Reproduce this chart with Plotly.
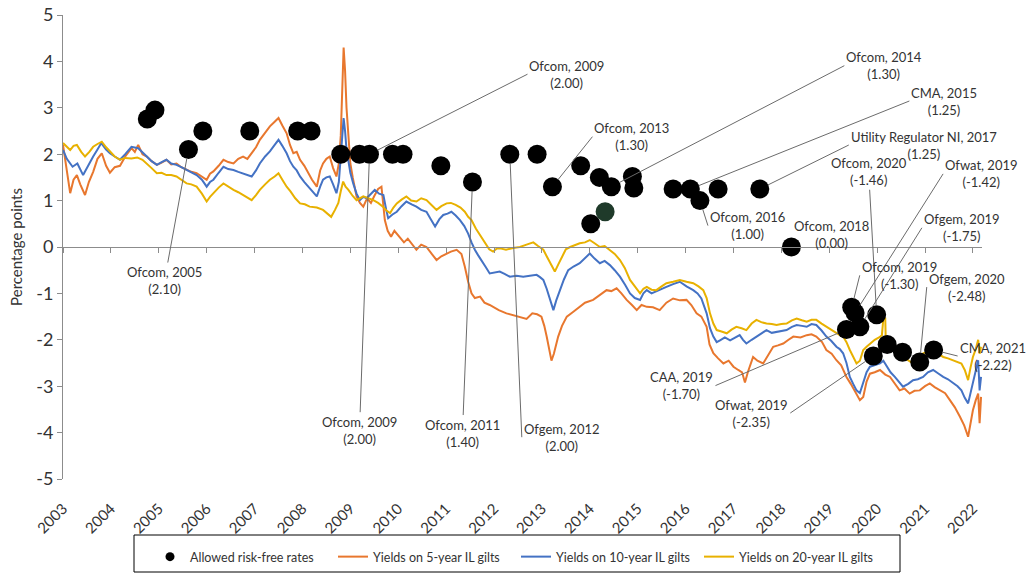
import plotly.graph_objects as go

# ---------------- data ----------------
years = list(range(2003, 2023))
year_labels = [str(y) for y in years]
y_ticks = list(range(-5, 6))
y_tick_labels = [str(v) for v in y_ticks]

# Yields on 5-year IL gilts
y5_x = [2003.00,2003.08,2003.15,2003.22,2003.29,2003.36,2003.46,2003.54,2003.63,2003.72,2003.81,2003.90,2003.98,
        2004.08,2004.19,2004.30,2004.43,2004.50,2004.57,2004.66,2004.75,2004.85,2004.96,2005.06,2005.16,2005.26,
        2005.37,2005.47,2005.58,2005.68,2005.79,2005.90,2006.00,2006.07,2006.14,2006.25,2006.35,2006.45,2006.56,
        2006.66,2006.76,2006.85,2006.94,2007.03,2007.11,2007.22,2007.32,2007.42,2007.50,2007.58,2007.67,2007.74,
        2007.81,2007.88,2007.95,2008.04,2008.12,2008.20,2008.30,2008.37,2008.43,2008.50,2008.57,2008.64,2008.71,
        2008.76,2008.80,2008.83,2008.86,2008.89,2008.92,2008.96,2009.00,2009.05,2009.13,2009.20,2009.27,2009.35,
        2009.43,2009.50,2009.58,2009.65,2009.72,2009.78,2009.85,2009.92,2009.97,2010.05,2010.12,2010.20,2010.30,
        2010.38,2010.48,2010.59,2010.70,2010.80,2010.90,2011.01,2011.10,2011.22,2011.32,2011.39,2011.46,2011.53,
        2011.60,2011.71,2011.80,2011.91,2012.00,2012.10,2012.26,2012.40,2012.54,2012.68,2012.80,2012.90,2012.99,
        2013.05,2013.10,2013.16,2013.20,2013.25,2013.34,2013.42,2013.52,2013.65,2013.79,2013.90,2014.07,2014.20,
        2014.35,2014.45,2014.56,2014.66,2014.77,2014.88,2014.98,2015.08,2015.19,2015.32,2015.46,2015.60,2015.74,
        2015.88,2016.02,2016.12,2016.23,2016.33,2016.44,2016.50,2016.58,2016.68,2016.79,2016.90,2017.00,2017.10,
        2017.18,2017.24,2017.30,2017.41,2017.50,2017.62,2017.72,2017.83,2017.93,2018.04,2018.15,2018.25,2018.40,
        2018.53,2018.63,2018.73,2018.85,2018.94,2019.05,2019.15,2019.25,2019.36,2019.45,2019.57,2019.64,2019.71,
        2019.78,2019.85,2019.95,2020.06,2020.17,2020.27,2020.37,2020.47,2020.57,2020.68,2020.78,2020.89,2021.00,
        2021.10,2021.20,2021.31,2021.42,2021.52,2021.62,2021.73,2021.82,2021.90,2021.95,2022.00,2022.06,2022.11,
        2022.14,2022.17]
y5_v = [2.20,1.60,1.16,1.45,1.55,1.35,1.12,1.40,1.62,1.90,2.02,1.75,1.60,
        1.72,1.75,1.95,2.13,2.05,2.20,2.00,1.95,1.85,1.77,1.82,1.88,1.78,
        1.80,1.72,1.66,1.62,1.59,1.52,1.45,1.58,1.63,1.75,1.88,1.83,1.80,
        1.90,1.95,1.90,2.02,2.15,2.31,2.45,2.60,2.70,2.78,2.62,2.45,2.20,
        2.02,2.05,1.88,1.75,1.59,1.45,1.30,1.65,1.80,1.90,1.95,1.70,1.52,
        1.80,2.40,3.40,4.30,3.80,3.00,2.40,1.80,1.50,1.09,0.95,0.87,1.05,
        0.95,1.10,1.25,1.30,0.58,0.35,0.22,0.35,0.29,0.20,0.10,0.18,0.05,
        -0.06,0.05,0.00,-0.15,-0.28,-0.20,-0.14,-0.10,-0.06,-0.15,-0.42,-0.75,-1.00,
        -1.10,-1.07,-1.20,-1.25,-1.30,-1.36,-1.43,-1.47,-1.50,-1.55,-1.43,-1.45,-1.50,
        -1.70,-1.93,-2.20,-2.45,-2.30,-1.93,-1.70,-1.50,-1.40,-1.29,-1.20,-1.14,-1.05,
        -0.93,-0.95,-0.89,-1.00,-1.14,-1.25,-1.36,-1.25,-1.29,-1.30,-1.36,-1.20,-1.11,
        -1.15,-1.14,-1.25,-1.43,-1.50,-1.72,-2.10,-2.29,-2.40,-2.51,-2.45,-2.58,-2.65,
        -2.70,-2.92,-2.70,-2.37,-2.45,-2.51,-2.35,-2.15,-2.12,-2.08,-2.00,-1.93,-1.95,
        -1.90,-1.88,-1.93,-2.05,-2.22,-2.30,-2.44,-2.55,-2.80,-2.95,-3.16,-3.30,-3.23,
        -2.90,-2.73,-2.70,-2.65,-2.75,-2.80,-2.95,-3.09,-3.05,-3.16,-3.10,-3.09,-3.00,
        -2.94,-3.02,-3.09,-3.15,-3.30,-3.45,-3.66,-3.85,-4.09,-3.80,-3.52,-3.30,-3.16,
        -3.80,-3.23]

# Yields on 10-year IL gilts
y10_x = [2003.00,2003.08,2003.20,2003.30,2003.42,2003.52,2003.63,2003.72,2003.80,2003.90,2003.98,2004.08,2004.19,
         2004.30,2004.43,2004.57,2004.66,2004.75,2004.85,2004.96,2005.06,2005.16,2005.26,2005.37,2005.47,2005.58,
         2005.68,2005.79,2005.90,2006.00,2006.07,2006.14,2006.25,2006.35,2006.45,2006.56,2006.66,2006.76,2006.85,
         2006.94,2007.03,2007.11,2007.22,2007.32,2007.42,2007.50,2007.58,2007.67,2007.74,2007.81,2007.88,2007.95,
         2008.04,2008.12,2008.20,2008.30,2008.37,2008.43,2008.50,2008.57,2008.64,2008.71,2008.76,2008.80,2008.83,
         2008.86,2008.89,2008.92,2008.96,2009.00,2009.06,2009.13,2009.20,2009.27,2009.34,2009.43,2009.51,2009.60,
         2009.69,2009.75,2009.79,2009.88,2009.97,2010.07,2010.17,2010.28,2010.38,2010.48,2010.59,2010.68,2010.77,
         2010.86,2010.94,2011.03,2011.11,2011.20,2011.29,2011.38,2011.46,2011.53,2011.60,2011.67,2011.74,2011.82,
         2011.91,2012.02,2012.12,2012.22,2012.33,2012.47,2012.61,2012.75,2012.89,2012.96,2013.03,2013.10,2013.17,
         2013.24,2013.30,2013.38,2013.46,2013.55,2013.66,2013.79,2013.90,2014.00,2014.10,2014.21,2014.31,2014.42,
         2014.52,2014.63,2014.74,2014.84,2014.94,2015.05,2015.12,2015.19,2015.29,2015.39,2015.50,2015.60,2015.74,
         2015.88,2016.02,2016.16,2016.25,2016.33,2016.44,2016.51,2016.58,2016.65,2016.72,2016.82,2016.93,2017.03,
         2017.13,2017.20,2017.27,2017.38,2017.48,2017.58,2017.69,2017.80,2017.90,2018.00,2018.11,2018.22,2018.32,
         2018.43,2018.53,2018.63,2018.73,2018.84,2018.94,2019.04,2019.15,2019.22,2019.29,2019.36,2019.43,2019.50,
         2019.57,2019.64,2019.71,2019.78,2019.85,2019.95,2020.06,2020.13,2020.20,2020.28,2020.37,2020.45,2020.54,
         2020.65,2020.75,2020.85,2020.96,2021.06,2021.17,2021.27,2021.38,2021.48,2021.59,2021.68,2021.76,2021.83,
         2021.90,2021.95,2022.00,2022.06,2022.11,2022.14,2022.17]
y10_v = [2.09,1.90,1.73,1.80,1.55,1.75,1.95,2.10,2.24,2.10,2.02,1.95,1.88,
         2.00,2.16,2.13,2.05,1.95,1.85,1.77,1.83,1.88,1.80,1.77,1.72,1.66,
         1.62,1.55,1.45,1.30,1.40,1.45,1.60,1.73,1.68,1.66,1.62,1.59,1.55,
         1.52,1.65,1.80,1.95,2.06,2.20,2.31,2.18,2.02,1.85,1.73,1.65,1.52,
         1.40,1.30,1.20,1.09,1.30,1.45,1.50,1.52,1.35,1.16,1.40,1.90,2.40,
         2.78,2.50,2.10,1.85,1.60,1.37,1.15,1.01,1.08,1.05,1.15,1.23,1.15,
         1.12,0.80,0.62,0.70,0.76,0.88,0.98,0.92,0.87,0.80,0.76,0.60,0.44,
         0.60,0.69,0.72,0.76,0.68,0.58,0.45,0.29,0.10,-0.06,-0.18,-0.28,-0.42,
         -0.57,-0.55,-0.53,-0.58,-0.64,-0.62,-0.64,-0.62,-0.60,-0.65,-0.71,-0.90,-1.15,
         -1.36,-1.15,-0.93,-0.70,-0.50,-0.42,-0.35,-0.25,-0.14,-0.25,-0.35,-0.30,-0.39,
         -0.50,-0.64,-0.82,-1.00,-1.10,-1.14,-1.00,-0.93,-1.00,-0.96,-0.90,-0.86,-0.80,
         -0.75,-0.85,-0.93,-1.00,-1.11,-1.43,-1.75,-1.93,-2.05,-2.01,-1.95,-2.01,-1.95,
         -1.90,-2.00,-2.08,-2.00,-1.93,-1.85,-1.79,-1.85,-1.83,-1.80,-1.79,-1.72,-1.68,
         -1.70,-1.72,-1.66,-1.68,-1.80,-1.93,-2.02,-2.15,-2.20,-2.29,-2.50,-2.80,-2.95,
         -3.09,-3.15,-2.94,-2.70,-2.58,-2.55,-2.51,-2.45,-2.58,-2.70,-2.80,-2.90,-3.01,
         -2.95,-2.87,-2.85,-2.80,-2.70,-2.65,-2.72,-2.80,-2.85,-2.94,-3.00,-3.09,-3.25,
         -3.37,-3.15,-2.94,-2.70,-2.44,-3.09,-2.80]

# Yields on 20-year IL gilts
y20_x = [2003.00,2003.08,2003.15,2003.22,2003.29,2003.38,2003.46,2003.55,2003.63,2003.72,2003.81,2003.90,2003.98,
         2004.08,2004.19,2004.30,2004.43,2004.55,2004.66,2004.75,2004.85,2004.96,2005.06,2005.16,2005.26,2005.37,
         2005.47,2005.58,2005.68,2005.79,2005.90,2006.00,2006.07,2006.14,2006.25,2006.35,2006.45,2006.56,2006.66,
         2006.76,2006.85,2006.94,2007.03,2007.11,2007.22,2007.32,2007.42,2007.50,2007.58,2007.67,2007.75,2007.85,
         2007.95,2008.05,2008.15,2008.30,2008.43,2008.52,2008.60,2008.68,2008.75,2008.80,2008.85,2008.90,2008.96,
         2009.05,2009.13,2009.27,2009.38,2009.48,2009.58,2009.68,2009.76,2009.83,2009.90,2009.97,2010.07,2010.17,
         2010.27,2010.38,2010.48,2010.59,2010.70,2010.80,2010.90,2011.01,2011.10,2011.20,2011.30,2011.39,2011.46,
         2011.53,2011.62,2011.71,2011.80,2011.90,2011.98,2012.06,2012.13,2012.25,2012.40,2012.54,2012.68,2012.82,
         2012.92,2013.03,2013.10,2013.17,2013.27,2013.34,2013.42,2013.50,2013.59,2013.70,2013.79,2013.90,2014.00,
         2014.10,2014.21,2014.31,2014.42,2014.52,2014.63,2014.73,2014.84,2014.94,2015.05,2015.12,2015.19,2015.29,
         2015.39,2015.50,2015.60,2015.74,2015.88,2016.02,2016.16,2016.27,2016.37,2016.44,2016.51,2016.58,2016.65,
         2016.75,2016.86,2016.96,2017.06,2017.17,2017.27,2017.38,2017.48,2017.58,2017.69,2017.80,2017.90,2018.00,
         2018.11,2018.22,2018.32,2018.43,2018.53,2018.63,2018.73,2018.84,2018.94,2019.04,2019.15,2019.22,2019.29,
         2019.36,2019.43,2019.50,2019.57,2019.64,2019.71,2019.78,2019.85,2019.95,2020.04,2020.10,2020.13,2020.17,
         2020.18,2020.26,2020.34,2020.44,2020.54,2020.65,2020.75,2020.85,2020.96,2021.06,2021.17,2021.27,2021.38,
         2021.48,2021.59,2021.68,2021.76,2021.83,2021.90,2021.95,2022.00,2022.06,2022.11,2022.14,2022.17]
y20_v = [2.24,2.15,2.09,2.18,2.20,2.05,1.95,2.05,2.16,2.22,2.27,2.15,2.06,
         1.95,1.88,1.92,1.91,1.93,1.88,1.80,1.70,1.59,1.60,1.55,1.55,1.52,
         1.45,1.37,1.35,1.30,1.15,0.98,1.08,1.16,1.28,1.37,1.30,1.23,1.18,
         1.12,1.05,1.01,1.12,1.23,1.35,1.45,1.52,1.59,1.45,1.30,1.20,1.05,
         0.94,0.92,0.87,0.85,0.80,0.72,0.65,0.80,0.95,1.20,1.41,1.30,1.23,
         1.10,1.01,1.09,1.05,1.01,0.95,0.87,0.78,0.73,0.85,0.94,1.02,1.09,
         1.00,0.98,1.05,1.01,0.90,0.80,0.88,0.94,0.95,0.91,0.85,0.76,0.65,
         0.58,0.40,0.25,0.12,-0.05,-0.10,-0.03,-0.03,-0.06,-0.02,0.00,0.05,0.10,
         0.02,-0.06,-0.20,-0.35,-0.53,-0.38,-0.20,-0.05,0.00,0.05,0.08,0.10,0.15,
         0.08,0.00,0.02,-0.06,-0.15,-0.28,-0.45,-0.71,-0.85,-1.00,-0.90,-0.86,-0.92,
         -0.93,-0.85,-0.78,-0.75,-0.71,-0.75,-0.78,-0.85,-0.93,-1.10,-1.43,-1.65,-1.79,
         -1.82,-1.86,-1.78,-1.72,-1.75,-1.79,-1.65,-1.57,-1.62,-1.65,-1.66,-1.68,-1.66,
         -1.65,-1.58,-1.54,-1.58,-1.61,-1.57,-1.57,-1.65,-1.72,-1.78,-1.86,-1.90,-1.93,
         -2.05,-2.22,-2.38,-2.51,-2.45,-2.22,-2.15,-2.08,-2.00,-1.95,-1.90,-1.54,-1.54,
         -2.00,-2.10,-2.15,-2.28,-2.37,-2.45,-2.51,-2.40,-2.29,-2.25,-2.22,-2.30,-2.37,
         -2.40,-2.44,-2.48,-2.51,-2.65,-2.87,-2.60,-2.37,-2.20,-2.00,-2.30,-2.15]

# Allowed risk-free rates (decision date, rate)
rfr_x = [2004.76,2004.92,2005.62,2005.92,2006.90,2007.90,2008.18,2008.80,2009.19,2009.40,
         2009.88,2010.10,2010.89,2011.55,2012.33,2012.90,2013.22,2013.81,2014.20,2014.45,
         2014.02,2014.32,2014.89,2014.92,2015.74,2016.10,2016.30,2016.68,2017.55,2018.21,
         2019.47,2019.54,2019.36,2019.64,2019.99,2019.92,2020.21,2020.53,2020.89,2021.18]
rfr_v = [2.76,2.95,2.10,2.50,2.50,2.50,2.50,2.00,2.00,2.00,
         2.00,2.00,1.75,1.40,2.00,2.00,1.30,1.75,1.50,1.30,
         0.50,0.76,1.52,1.27,1.25,1.25,1.00,1.25,1.25,0.00,
         -1.30,-1.42,-1.78,-1.72,-1.46,-2.35,-2.10,-2.27,-2.48,-2.22]
rfr_colors = ["#000000"] * len(rfr_x)
rfr_colors[21] = "#1f3a2a"

# Labels: text, index of labelled point, label offset (px), anchor side
ann_text = ["Ofcom, 2005<br>(2.10)", "Ofcom, 2009<br>(2.00)", "Ofcom, 2009<br>(2.00)",
            "Ofcom, 2011<br>(1.40)", "Ofgem, 2012<br>(2.00)", "Ofcom, 2013<br>(1.30)",
            "Ofcom, 2014<br>(1.30)", "CMA, 2015<br>(1.25)", "Utility Regulator NI, 2017<br>(1.25)",
            "Ofcom, 2016<br>(1.00)", "Ofcom, 2020<br>(-1.46)", "Ofwat, 2019<br>(-1.42)",
            "Ofgem, 2019<br>(-1.75)", "Ofcom, 2019<br>(-1.30)", "Ofgem, 2020<br>(-2.48)",
            "CMA, 2021<br>(-2.22)", "CAA, 2019<br>(-1.70)", "Ofwat, 2019<br>(-2.35)"]
ann_idx = [2, 9, 9, 13, 14, 16, 19, 25, 28, 26, 34, 31, 33, 30, 38, 39, 32, 35]
ann_ax = [-24, 158, -10, -10, 12, 40, 233, 219, 89, 8, -8, 88, 62, 8, 7, 24, -131, -83]
ann_ay = [131, -80, 276, 251, 283, -50, -121, -88, -44, 25, -143, -139, -99, -32, -75, 6, 56, 57]
ann_anchor = ["center", "left", "center", "center", "left", "left", "left", "left", "left",
              "left", "center", "left", "left", "left", "left", "left", "right", "right"]

FONT = "Lato"
XMAX = 2022.19
TXT = "#333333"
AXC = "#8c8c8c"

fig = go.Figure()
fig.add_trace(go.Scatter(x=y5_x, y=y5_v, mode="lines", name="Yields on 5-year IL gilts",
                         line=dict(color="#E8772E", width=2), legendrank=2))
fig.add_trace(go.Scatter(x=y10_x, y=y10_v, mode="lines", name="Yields on 10-year IL gilts",
                         line=dict(color="#4472C4", width=2), legendrank=3))
fig.add_trace(go.Scatter(x=y20_x, y=y20_v, mode="lines", name="Yields on 20-year IL gilts",
                         line=dict(color="#E8B100", width=2), legendrank=4))
fig.add_trace(go.Scatter(x=rfr_x, y=rfr_v, mode="markers", name="Allowed risk-free rates",
                         marker=dict(color=rfr_colors, size=19, line=dict(width=0)),
                         showlegend=False, legendgroup="rfr"))
# legend entry for the dots (smaller symbol, like the reference legend)
fig.add_trace(go.Scatter(x=[None], y=[None], mode="markers", name="Allowed risk-free rates",
                         marker=dict(color="#000000", size=9), legendrank=1, legendgroup="rfr"))
# helper trace so the zero-line axis (with year tick marks) is drawn
fig.add_trace(go.Scatter(x=[years[0]], y=[None], xaxis="x2", yaxis="y", showlegend=False,
                         hoverinfo="skip", mode="lines"))

annotations = []
for t, i, ax, ay, anc in zip(ann_text, ann_idx, ann_ax, ann_ay, ann_anchor):
    annotations.append(dict(x=rfr_x[i], y=rfr_v[i], xref="x", yref="y", text=t, showarrow=True,
                            ax=ax, ay=ay, axref="pixel", ayref="pixel", xanchor=anc, yanchor="middle",
                            align="center", arrowhead=0, arrowwidth=1, arrowcolor="#6b6b6b",
                            standoff=9, startstandoff=0, borderpad=1,
                            font=dict(family=FONT, size=13, color=TXT)))
# label without leader line
annotations.append(dict(x=rfr_x[29], y=rfr_v[29], xref="x", yref="y", text="Ofcom, 2018<br>(0.00)",
                        showarrow=False, xshift=40, yshift=13, align="center",
                        font=dict(family=FONT, size=13, color=TXT)))

PW = 1033 - 63 - 51
PH = 574 - 15 - 95

fig.update_layout(
    width=1033, height=574, autosize=False,
    margin=dict(l=63, r=51, t=15, b=95, autoexpand=False),
    paper_bgcolor="white", plot_bgcolor="white",
    font=dict(family=FONT, color=TXT),
    showlegend=True,
    legend=dict(orientation="h", x=(150 - 63) / PW, xanchor="left", y=(479 - 542) / PH, yanchor="top",
                entrywidth=138, entrywidthmode="pixels",
                font=dict(family=FONT, size=12.5, color=TXT),
                bgcolor="rgba(0,0,0,0)", borderwidth=0, traceorder="normal"),
    xaxis=dict(range=[2003, XMAX], tickmode="array", tickvals=years, ticktext=year_labels,
               tickangle=-45, ticks="outside", ticklen=14, tickcolor="rgba(0,0,0,0)",
               showline=False, showgrid=False, zeroline=False, automargin=False,
               tickfont=dict(family=FONT, size=15, color=TXT)),
    xaxis2=dict(range=[2003, XMAX], overlaying="x", anchor="free", position=0.5, side="bottom",
                tickmode="array", tickvals=years, ticks="outside", ticklen=5, tickcolor=AXC,
                showticklabels=False, showline=True, linecolor=AXC, linewidth=1,
                showgrid=False, zeroline=False, automargin=False),
    yaxis=dict(range=[-5, 5], tickmode="array", tickvals=y_ticks, ticktext=y_tick_labels,
               ticks="outside", ticklen=5, tickcolor=AXC, showline=True, linecolor=AXC, linewidth=1,
               showgrid=False, zeroline=False, automargin=False,
               tickfont=dict(family=FONT, size=18, color=TXT),
               title=dict(text="Percentage points", font=dict(family=FONT, size=15, color=TXT),
                          standoff=10)),
    annotations=annotations,
    shapes=[dict(type="rect", xref="paper", yref="paper",
                 x0=(134 - 63) / PW, x1=(900 - 63) / PW,
                 y0=(479 - 572) / PH, y1=(479 - 535) / PH,
                 line=dict(color="#000000", width=1), fillcolor="rgba(0,0,0,0)", layer="below")],
)

fig.write_html("out.html", config={"displayModeBar": False},
               post_script="document.body.style.margin='0px';document.body.style.padding='0px';")
